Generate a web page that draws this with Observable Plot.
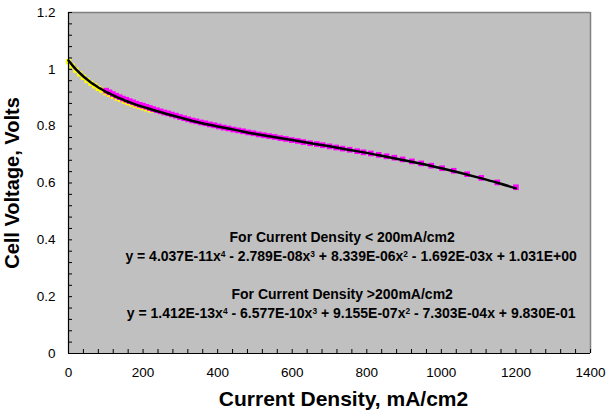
<!DOCTYPE html>
<html><head><meta charset="utf-8">
<script src="https://cdn.jsdelivr.net/npm/d3@7"></script>
<script src="https://cdn.jsdelivr.net/npm/@observablehq/plot@0.6"></script>
<style>
body{margin:0;background:#fff;}
#chart svg{display:block;}
</style></head><body><div id="chart"></div>
<script>
// Low current density data (yellow)
const lowX = [0,10,20,30,40,50,60,70,80,90,100,110,120,130,140,150,160,170,180,190,200,210,220];
const lowV = [1.027,1.012,0.997,0.984,0.972,0.961,0.951,0.942,0.933,0.926,0.918,0.912,0.905,0.899,0.894,0.888,0.883,0.878,0.873,0.869,0.865,0.861,0.857];
// High current density data (magenta)
const highX = [101,110,119,128,137,146,155,164,173,182,191,200,209,218,227,237,247,257,267,277,288,299,310,321,332,343,355,367,379,391,403,416,429,442,455,468,482,496,510,524,538,553,568,583,599,615,630,648,666,682,700,718,735,754,774,791,811,832,853,874,896,921,946,973,1002,1033,1069,1107,1150,1200];
const highV = [0.925,0.919,0.913,0.907,0.902,0.897,0.893,0.888,0.884,0.879,0.875,0.872,0.868,0.864,0.860,0.856,0.852,0.848,0.845,0.841,0.837,0.832,0.828,0.824,0.820,0.817,0.813,0.810,0.806,0.803,0.799,0.795,0.792,0.788,0.785,0.782,0.778,0.775,0.771,0.768,0.765,0.762,0.758,0.755,0.751,0.748,0.744,0.740,0.737,0.733,0.729,0.725,0.721,0.717,0.712,0.708,0.704,0.699,0.694,0.689,0.683,0.676,0.669,0.661,0.652,0.643,0.631,0.618,0.602,0.585];
// Trendline (black)
const fitX = [0,10,20,30,40,50,60,70,80,90,100,110,120,130,140,150,160,170,180,190,200,250,300,350,400,450,500,550,600,650,700,750,800,850,900,950,1000,1050,1100,1150,1200];
const fitV = [1.031,1.015,1.000,0.987,0.975,0.964,0.954,0.945,0.936,0.929,0.921,0.915,0.908,0.902,0.897,0.891,0.886,0.881,0.876,0.872,0.868,0.848,0.830,0.813,0.799,0.786,0.773,0.762,0.751,0.740,0.729,0.717,0.706,0.693,0.680,0.667,0.652,0.636,0.619,0.601,0.581];

const xTicks = [0,200,400,600,800,1000,1200,1400];
const xTickLabels = ["0","200","400","600","800","1000","1200","1400"];
const yTicks = [0,0.2,0.4,0.6,0.8,1.0,1.2];
const yTickLabels = ["0","0.2","0.4","0.6","0.8","1","1.2"];
const xMinor = d3.range(0, 1401, 40);
const yMinor = d3.range(0, 61, 2).map(d => d / 50);

const xTitle = "Current Density, mA/cm2";
const yTitle = "Cell Voltage, Volts";
const eqHeads = ["For Current Density < 200mA/cm2", "For Current Density >200mA/cm2"];
const eqLines = ["y = 4.037E-11x^4 - 2.789E-08x^3 + 8.339E-06x^2 - 1.692E-03x + 1.031E+00",
                 "y = 1.412E-13x^4 - 6.577E-10x^3 + 9.155E-07x^2 - 7.303E-04x + 9.830E-01"];

const low = lowX.map((x, i) => ({x, v: lowV[i]}));
const high = highX.map((x, i) => ({x, v: highV[i]}));
const fit = fitX.map((x, i) => ({x, v: fitV[i]}));

const chart = Plot.plot({
  width: 608, height: 417,
  marginLeft: 68, marginRight: 18, marginTop: 12, marginBottom: 64,
  style: {fontFamily: "'Liberation Sans', Arial, sans-serif", fontSize: "13.5px", background: "#fff", color: "#000"},
  x: {domain: [0, 1400]},
  y: {domain: [0, 1.2]},
  marks: [
    Plot.frame({fill: "#C0C0C0", stroke: "none"}),
    Plot.ruleY([1.2], {stroke: "#808080", strokeWidth: 1.5}),
    Plot.ruleX([1400], {stroke: "#808080", strokeWidth: 1.5}),
    Plot.dot(low, {x: "x", y: "v", symbol: "square", r: 3, fill: "#FFFF00"}),
    Plot.dot(high, {x: "x", y: "v", symbol: "square", r: 3.2, fill: "#FF00FF"}),
    Plot.line(fit, {x: "x", y: "v", stroke: "#000", strokeWidth: 2.5, curve: "monotone-x"}),
    Plot.ruleX([0], {stroke: "#000", strokeWidth: 1.2}),
    Plot.ruleY([0], {stroke: "#000", strokeWidth: 1.2}),
    Plot.axisX({ticks: xMinor, tickSize: 4, dy: -4, fill: "none", label: null}),
    Plot.axisY({ticks: yMinor, tickSize: 4, dx: 4, fill: "none", label: null}),
    Plot.axisX({ticks: xTicks, tickSize: 0, tickPadding: 14, label: null, tickFormat: d => xTickLabels[xTicks.indexOf(d)]}),
    Plot.axisY({ticks: yTicks, tickSize: 0, tickPadding: 13, label: null, tickFormat: d => yTickLabels[yTicks.indexOf(d)]}),
    Plot.text([xTitle], {frameAnchor: "bottom", textAnchor: "middle", dy: 52, dx: 14, fontWeight: "bold", fontSize: 21}),
    Plot.text([yTitle], {frameAnchor: "left", textAnchor: "middle", dx: -56, rotate: -90, fontWeight: "bold", fontSize: 20}),
    Plot.text([eqHeads[0]], {x: 734, y: 0.409, fontWeight: "bold", fontSize: 14}),
    Plot.text([eqLines[0]], {x: 758, y: 0.342, fontWeight: "bold", fontSize: 14}),
    Plot.text([eqHeads[1]], {x: 734, y: 0.208, fontWeight: "bold", fontSize: 14}),
    Plot.text([eqLines[1]], {x: 758, y: 0.141, fontWeight: "bold", fontSize: 14})
  ]
});

// superscripts as real tspans
d3.select(chart).selectAll("text").each(function() {
  const t = this.textContent;
  if (!t.includes("^")) return;
  const sel = d3.select(this);
  sel.text(null);
  const parts = t.split(/\^(\d)/);
  parts.forEach((p, i) => {
    if (i % 2 === 1) {
      sel.append("tspan").attr("dy", "-0.45em").attr("font-size", "0.6em").text(p);
    } else if (p) {
      const ts = sel.append("tspan").text(p);
      if (i > 0) ts.attr("dy", "0.27em");
    }
  });
});

document.getElementById("chart").append(chart);
</script>
</body></html>
